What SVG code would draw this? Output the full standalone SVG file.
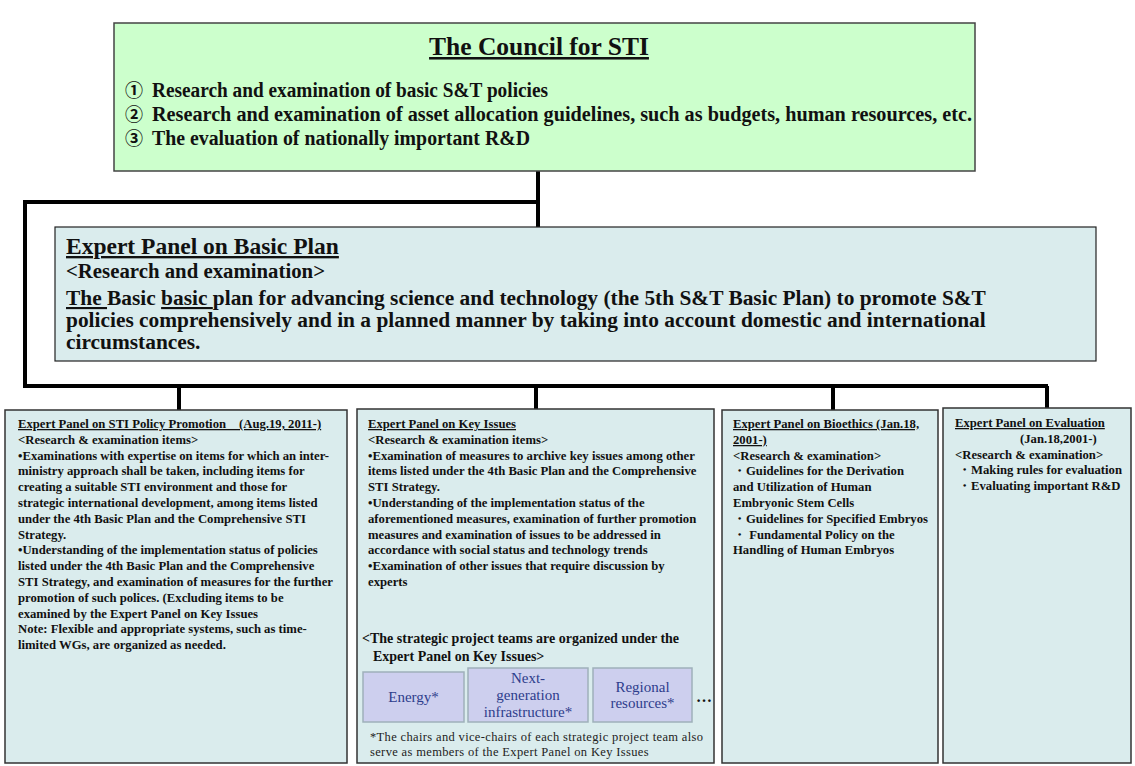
<svg xmlns="http://www.w3.org/2000/svg" width="1135" height="766" viewBox="0 0 1135 766">
<style>
.t{font-family:"Liberation Serif","Times New Roman",serif;font-weight:bold;fill:#111}
.u{text-decoration:underline}
.s{font-size:12.7px}
.pb{fill:#daeced;stroke:#333;stroke-width:1.5}
.sb{fill:#cdcfee;stroke:#9fb0ba;stroke-width:1.5}
.st{font-family:"Liberation Serif","Times New Roman",serif;font-size:15px;fill:#2e3d8c;text-anchor:middle}
.c{fill:none;stroke:#000;stroke-width:4}
.n{font-family:"Liberation Serif","Times New Roman",serif;font-size:12.5px;letter-spacing:0.35px;fill:#222}
.cd{font-family:"Noto Sans CJK JP","DejaVu Sans",sans-serif;font-weight:bold;font-size:18px;fill:#111}
</style>
<rect width="1135" height="766" fill="#fff"/>
<g id="connectors">
<path class="c" d="M538 171V227"/>
<path class="c" d="M538 202H25V386H1048"/>
<path class="c" d="M179 386V410"/>
<path class="c" d="M536 386V409"/>
<path class="c" d="M833 386V410"/>
<path class="c" d="M1047 386V408"/>
</g>
<g id="council">
<rect x="114" y="23" width="861" height="148" fill="#ccffcc" stroke="#444" stroke-width="1.5"/>
<text class="t u" x="539" y="55" font-size="25.5" text-anchor="middle">The Council for STI</text>
<text class="cd" x="125" y="97">①</text>
<text class="cd" x="125" y="121">②</text>
<text class="cd" x="125" y="145">③</text>
<text class="t" x="152" y="97" font-size="20" textLength="396" lengthAdjust="spacingAndGlyphs">Research and examination of basic S&amp;T policies</text>
<text class="t" x="152" y="121" font-size="20" textLength="820" lengthAdjust="spacingAndGlyphs">Research and examination of asset allocation guidelines, such as budgets, human resources, etc.</text>
<text class="t" x="152" y="145" font-size="20" textLength="378" lengthAdjust="spacingAndGlyphs">The evaluation of nationally important R&amp;D</text>
</g>
<g id="basic-plan">
<rect x="55" y="227" width="1041" height="134" fill="#daeced" stroke="#222" stroke-width="1.2"/>
<text class="t u" x="66" y="254" font-size="23.5">Expert Panel on Basic Plan</text>
<text class="t" x="66" y="278" font-size="20.8">&lt;Research and examination&gt;</text>
<text class="t" x="66" y="305" font-size="21.4"><tspan class="u">The </tspan>Basic <tspan class="u">basic </tspan>plan for advancing science and technology (the 5th S&amp;T Basic Plan) to promote S&amp;T</text>
<text class="t" x="66" y="327" font-size="21.4">policies comprehensively and in a planned manner by taking into account domestic and international</text>
<text class="t" x="66" y="349" font-size="21.4">circumstances.</text>
</g>
<g id="sti-policy">
<rect class="pb" x="5" y="410" width="342" height="353"/>
<text class="t s">
<tspan x="18" y="428" class="u">Expert Panel on STI Policy Promotion　(Aug.19, 2011-)</tspan>
<tspan x="18" y="444">&lt;Research &amp; examination items&gt;</tspan>
<tspan x="18" y="459.6">•Examinations with expertise on items for which an inter-</tspan>
<tspan x="18" y="475.4">ministry approach shall be taken, including items for</tspan>
<tspan x="18" y="491.2">creating a suitable STI environment and those for</tspan>
<tspan x="18" y="507">strategic international development, among items listed</tspan>
<tspan x="18" y="522.8">under the 4th Basic Plan and the Comprehensive STI</tspan>
<tspan x="18" y="538.6">Strategy.</tspan>
<tspan x="18" y="554.4">•Understanding of the implementation status of policies</tspan>
<tspan x="18" y="570.2">listed under the 4th Basic Plan and the Comprehensive</tspan>
<tspan x="18" y="586">STI Strategy, and examination of measures for the further</tspan>
<tspan x="18" y="601.8">promotion of such polices. (Excluding items to be</tspan>
<tspan x="18" y="617.6">examined by the Expert Panel on Key Issues</tspan>
<tspan x="18" y="633.4">Note: Flexible and appropriate systems, such as time-</tspan>
<tspan x="18" y="649.2">limited WGs, are organized as needed.</tspan>
</text>
</g>
<g id="key-issues">
<rect class="pb" x="357" y="409" width="357" height="354"/>
<text class="t s">
<tspan x="368" y="428" class="u">Expert Panel on Key Issues</tspan>
<tspan x="368" y="444">&lt;Research &amp; examination items&gt;</tspan>
<tspan x="368" y="459.6">•Examination of measures to archive key issues among other</tspan>
<tspan x="368" y="475.4">items listed under the 4th Basic Plan and the Comprehensive</tspan>
<tspan x="368" y="491.2">STI Strategy.</tspan>
<tspan x="368" y="507">•Understanding of the implementation status of the</tspan>
<tspan x="368" y="522.8">aforementioned measures, examination of further promotion</tspan>
<tspan x="368" y="538.6">measures and examination of issues to be addressed in</tspan>
<tspan x="368" y="554.4">accordance with social status and technology trends</tspan>
<tspan x="368" y="570.2">•Examination of other issues that require discussion by</tspan>
<tspan x="368" y="586">experts</tspan>
</text>
<text class="t" font-size="14">
<tspan x="362" y="643">&lt;The strategic project teams are organized under the</tspan>
<tspan x="373" y="661">Expert Panel on Key Issues&gt;</tspan>
</text>
<g id="energy">
<rect class="sb" x="363" y="672" width="101" height="50"/>
<text class="st" x="413.5" y="702">Energy*</text>
</g>
<g id="next-generation">
<rect class="sb" x="468" y="668" width="120" height="54"/>
<text class="st" x="528" y="683">Next-</text>
<text class="st" x="528" y="700">generation</text>
<text class="st" x="528" y="717">infrastructure*</text>
</g>
<g id="regional">
<rect class="sb" x="593" y="668" width="99" height="54"/>
<text class="st" x="642.5" y="692">Regional</text>
<text class="st" x="642.5" y="708">resources*</text>
</g>
<text class="t" x="696" y="702" font-size="16">…</text>
<text class="n" x="370" y="741">*The chairs and vice-chairs of each strategic project team also</text>
<text class="n" x="370" y="756">serve as members of the Expert Panel on Key Issues</text>
</g>
<g id="bioethics">
<rect class="pb" x="722" y="410" width="216" height="353"/>
<text class="t s">
<tspan x="733" y="428" class="u">Expert Panel on Bioethics (Jan.18,</tspan>
<tspan x="733" y="444" class="u">2001-)</tspan>
<tspan x="733" y="459.6">&lt;Research &amp; examination&gt;</tspan>
<tspan x="733" y="475.4"> ・Guidelines for the Derivation</tspan>
<tspan x="733" y="491.2">and Utilization of Human</tspan>
<tspan x="733" y="507">Embryonic Stem Cells</tspan>
<tspan x="733" y="522.8"> ・Guidelines for Specified Embryos</tspan>
<tspan x="733" y="538.6"> ・ Fundamental Policy on the</tspan>
<tspan x="733" y="554.4">Handling of Human Embryos</tspan>
</text>
</g>
<g id="evaluation">
<rect class="pb" x="943" y="408" width="188" height="355"/>
<text class="t s">
<tspan x="955" y="427" class="u">Expert Panel on Evaluation</tspan>
<tspan x="1020" y="443">(Jan.18,2001-)</tspan>
<tspan x="955" y="458.5">&lt;Research &amp; examination&gt;</tspan>
<tspan x="958" y="474">・Making rules for evaluation</tspan>
<tspan x="958" y="489.5">・Evaluating important R&amp;D</tspan>
</text>
</g>
</svg>
